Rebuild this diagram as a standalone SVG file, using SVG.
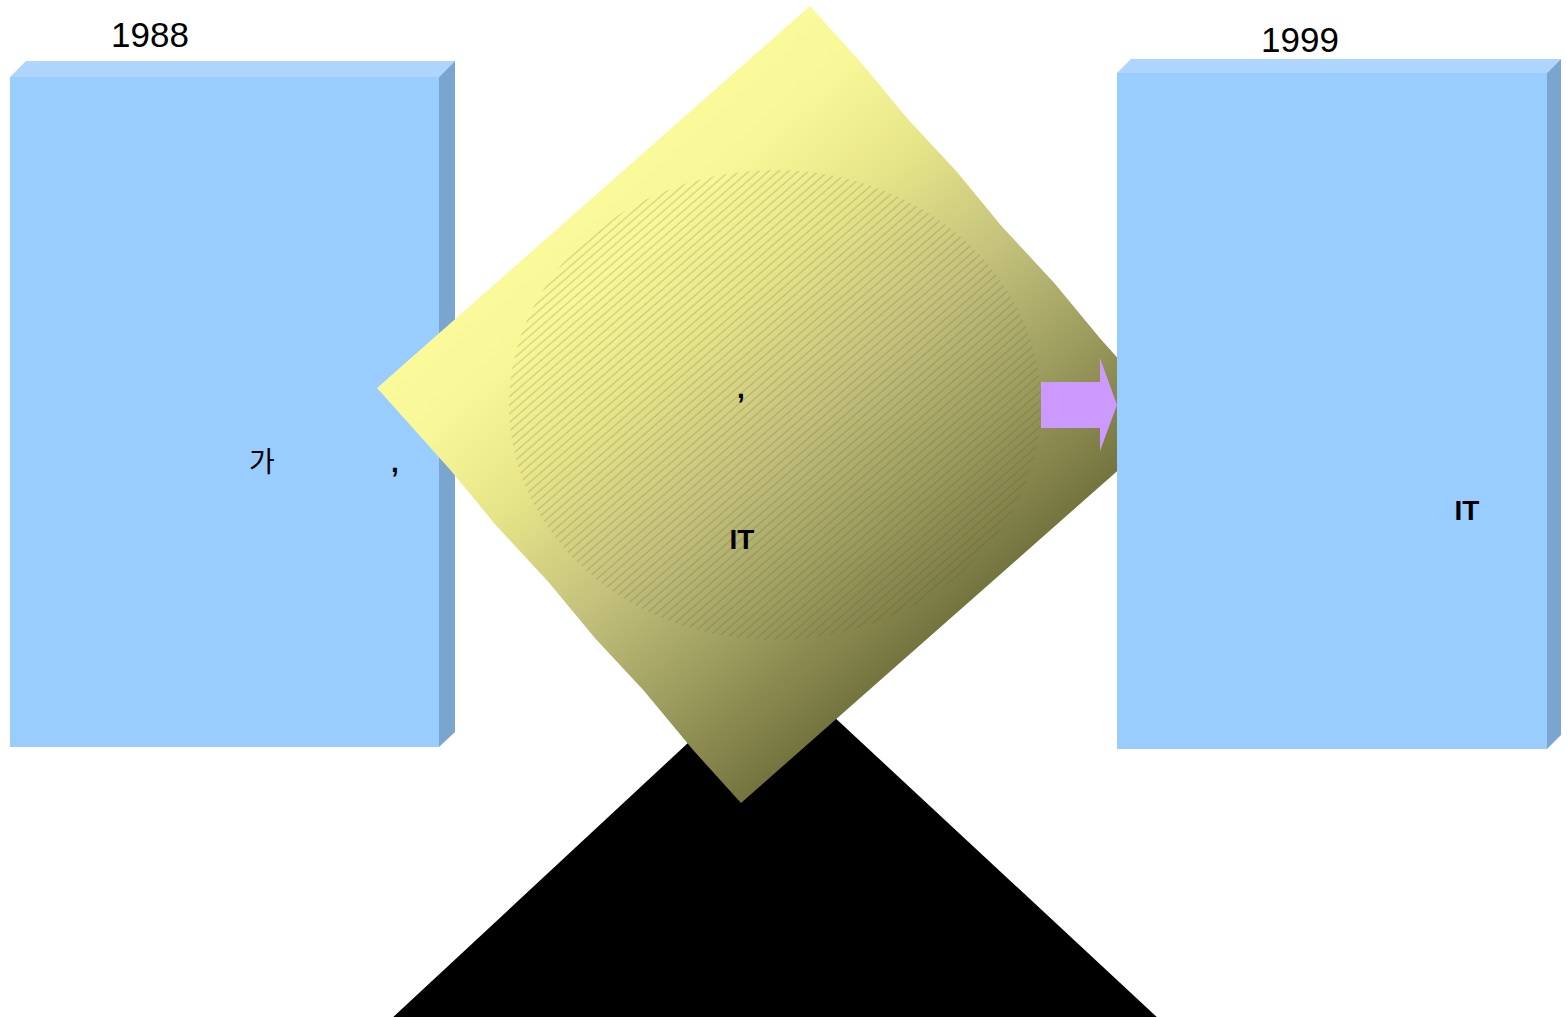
<svg xmlns="http://www.w3.org/2000/svg" width="1567" height="1017" viewBox="0 0 1567 1017">
  <style>
    .front { fill: #99ccff; }
    .top { fill: #add5fe; }
    .side { fill: #7aa5cf; }
    .year { font-family: "Liberation Sans", Arial, sans-serif; font-size: 35px; fill: #000; }
    .lbl { font-family: "Liberation Sans", "Noto Sans CJK KR", sans-serif; font-size: 28px; fill: #000; }
    .cm { font-family: "Liberation Sans", Arial, sans-serif; font-size: 28px; font-weight: bold; fill: #000; }
    .bold { font-family: "Liberation Sans", Arial, sans-serif; font-size: 28px; font-weight: bold; fill: #000; }
  </style>
  <defs>
    <linearGradient id="dg" gradientUnits="userSpaceOnUse" x1="593" y1="197" x2="957" y2="612">
      <stop offset="0" stop-color="#fafa9a"/>
      <stop offset="0.12" stop-color="#f8f898"/>
      <stop offset="0.32" stop-color="#e6e488"/>
      <stop offset="0.55" stop-color="#c4c27c"/>
      <stop offset="0.78" stop-color="#9c9c5e"/>
      <stop offset="1" stop-color="#74743f"/>
    </linearGradient>
    <pattern id="hatch" patternUnits="userSpaceOnUse" width="12" height="6.5" patternTransform="rotate(-41)">
      <line x1="0" y1="3" x2="12" y2="3" stroke="#4a4a2a" stroke-width="0.6" stroke-opacity="0.5"/>
    </pattern>
    <clipPath id="ellClip">
      <ellipse cx="775" cy="405" rx="266" ry="235"/>
    </clipPath>
  </defs>

  <!-- black triangle -->
  <g id="triangle">
    <polygon points="775,662 1160,1020 390,1020" fill="#000"/>
  </g>

  <!-- left box 1988 -->
  <g id="box-1988">
    <polygon class="top" points="10,77 26,61 455,61 439,77"/>
    <polygon class="side" points="439,77 455,61 455,732 439,747"/>
    <rect class="front" x="10" y="77" width="429" height="670"/>
    <text class="lbl" x="262" y="472" text-anchor="middle">가</text>
    <text class="cm" x="395" y="472" text-anchor="middle">,</text>
  </g>
  <text class="year" x="150" y="47" text-anchor="middle">1988</text>

  <!-- central diamond -->
  <g id="diamond">
    <polygon fill="url(#dg)" points="810,6 861.8,63.4 907.5,118.8 956.4,171.3 1002.1,226.7 1054.7,283.4 1100.4,338.7 1174,421 741,803 692.9,749.8 643.5,690.2 594.6,637.7 548.9,582.4 496.3,525.7 450.6,470.3 377,388"/>
    <rect x="500" y="160" width="560" height="490" fill="url(#hatch)" clip-path="url(#ellClip)"/>
    <text class="cm" x="741" y="398" text-anchor="middle">,</text>
    <text class="bold" x="742" y="549" text-anchor="middle">IT</text>
  </g>

  <!-- right box 1999 -->
  <g id="box-1999">
    <polygon class="top" points="1117,73 1131,59 1561,59 1547,73"/>
    <polygon class="side" points="1547,73 1561,59 1561,735 1547,749"/>
    <rect class="front" x="1117" y="73" width="430" height="676"/>
    <text class="bold" x="1467" y="520" text-anchor="middle">IT</text>
  </g>
  <text class="year" x="1300" y="52" text-anchor="middle">1999</text>

  <!-- connectors -->
  <g id="connectors">
    <polygon points="1041,382 1100,382 1100,358 1117,405 1100,451 1100,428 1041,428" fill="#cc99ff"/>
  </g>
</svg>
